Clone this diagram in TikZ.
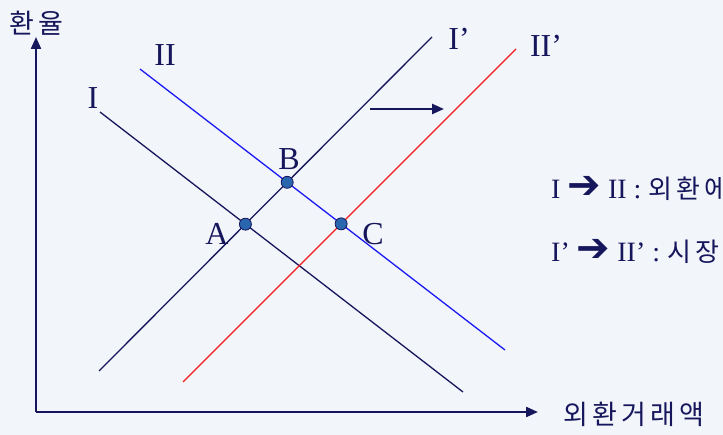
\documentclass[tikz,border=0pt]{standalone}
\usepackage{fontspec}
\setmainfont{Liberation Serif}
\newfontfamily\kor{Noto Sans CJK KR}[LetterSpace=16]
\newfontfamily\symb{DejaVu Sans}
\usetikzlibrary{arrows.meta}
\definecolor{navy}{HTML}{16165C}
\definecolor{bgblue}{HTML}{F2F5FA}
\definecolor{dotblue}{HTML}{2A66AE}
\definecolor{lineblue}{HTML}{1A1AF5}
\definecolor{linered}{HTML}{F51A1A}

\begin{document}
\begin{tikzpicture}[x=1pt,y=-1pt,
  >={Triangle[length=12pt,width=10pt]},
  curve/.style={line width=1.3pt},
  dot/.style={circle,draw=navy,fill=dotblue,line width=0.8pt,inner sep=0pt,minimum size=12pt},
  lbl/.style={text=navy,font=\fontsize{32}{32}\selectfont,inner sep=0pt},
  kr/.style={text=navy,font=\kor\fontsize{27}{27}\selectfont,inner sep=0pt}]
\fill[bgblue] (0,0) rectangle (723,435);
\useasboundingbox (0,0) rectangle (723,435);

% axes
\coordinate (o) at (36,412);
\coordinate (ytip) at (36,37);
\coordinate (xtip) at (538,412);
\node[kr,anchor=west] (rate) at (9,23) {환율};
\node[kr,anchor=west] (amount) at (563,414) {외환거래액};
\draw[navy,line width=2.2pt,->] (o) -- (ytip);
\draw[navy,line width=2.2pt,->] (o) -- (xtip);

% curves
\coordinate (d1a) at (100,112); \coordinate (d1b) at (463,392);
\coordinate (d2a) at (140,69);  \coordinate (d2b) at (505,350);
\coordinate (s1a) at (99,371);  \coordinate (s1b) at (432,37);
\coordinate (s2a) at (183,382); \coordinate (s2b) at (516,49);
\draw[curve,navy] (d1a) -- (d1b);
\draw[curve,lineblue] (d2a) -- (d2b);
\draw[curve,navy] (s1a) -- (s1b);
\draw[curve,linered] (s2a) -- (s2b);

\node[lbl] (d1) at (93,98) {I};
\node[lbl] (d2) at (165,55) {II};
\node[lbl] (s1) at (459,39) {I’};
\node[lbl] (s2) at (546,46) {II’};

% equilibria
\node[dot] (a) at (intersection of d1a--d1b and s1a--s1b) {};
\node[dot] (b) at (intersection of d2a--d2b and s1a--s1b) {};
\node[dot] (c) at (intersection of d2a--d2b and s2a--s2b) {};
\node[lbl] at (217,234) {A};
\node[lbl] at (289,159) {B};
\node[lbl] at (373,234) {C};

% shift
\coordinate (sh1) at (370,109); \coordinate (sh2) at (444,109);
\draw[navy,line width=2.4pt,->] (sh1) -- (sh2);

% notes
\node[lbl,anchor=west,font=\fontsize{28}{28}\selectfont] (n1) at (551,188)
  {I {\symb\bfseries\fontsize{40}{40}\selectfont ➔} II : {\kor\fontsize{26}{26}\selectfont 외환에 대한 수요 증가}};
\node[lbl,anchor=west,font=\fontsize{28}{28}\selectfont] (n2) at (551,251)
  {I’ {\symb\bfseries\fontsize{40}{40}\selectfont ➔} II’ : {\kor\fontsize{26}{26}\selectfont 시장 공급 증가}};
\end{tikzpicture}
\end{document}
